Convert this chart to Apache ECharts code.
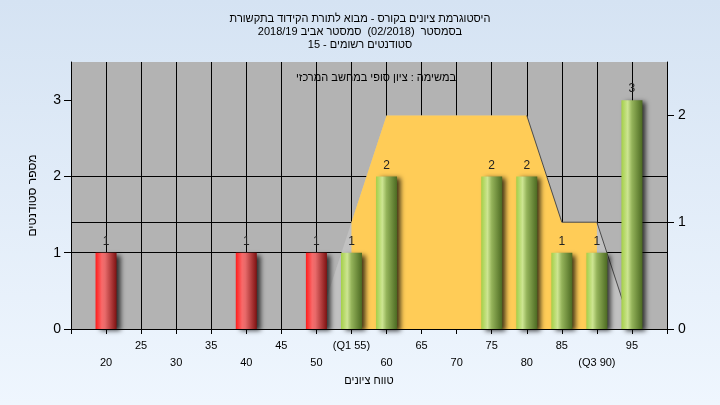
<!DOCTYPE html>
<html>
<head>
<meta charset="utf-8">
<script src="https://cdn.jsdelivr.net/npm/echarts@6/dist/echarts.min.js"></script>
<style>html,body{margin:0;padding:0;}#c{width:720px;height:405px;}</style>
</head>
<body>
<div id="c"></div>
<script>
// ---- data ----
const titleLines = [
  'היסטוגרמת ציונים בקורס - מבוא לתורת הקידוד בתקשורת',
  'בסמסטר  (02/2018)  סמסטר אביב 2018/19',
  'סטודנטים רשומים - 15'
];
const subTitle = 'במשימה : ציון סופי במחשב המרכזי';
const xAxisName = 'טווח ציונים';
const yAxisName = 'מספר סטודנטים';

const scores = [20, 40, 50, 55, 60, 75, 80, 85, 90, 95];
const counts = [1, 1, 1, 1, 2, 2, 2, 1, 1, 3];
const passMark = 55;

const densX = [50, 55, 60, 65, 70, 75, 80, 85, 90, 95];
const densY = [0, 1, 2, 2, 2, 2, 2, 1, 1, 0];
const q1 = 55, q3 = 90;

const xMin = 15, xMax = 100, xStep = 5;
const specialTickLabels = {55: '(Q1 55)', 90: '(Q3 90)'};
const leftTicks = [0, 1, 2, 3];
const rightTicks = [0, 1, 2];

// ---- chart ----
const FONT = '"Liberation Sans", Arial, sans-serif';
const redGrad = new echarts.graphic.LinearGradient(0, 0, 1, 0, [
  {offset: 0, color: '#ff1c1c'}, {offset: 0.3, color: '#f86a6a'},
  {offset: 0.45, color: '#e86a6a'}, {offset: 1, color: '#7e1212'}]);
const greenGrad = new echarts.graphic.LinearGradient(0, 0, 1, 0, [
  {offset: 0, color: '#a4cf48'}, {offset: 0.3, color: '#cde592'},
  {offset: 0.5, color: '#94b35a'}, {offset: 1, color: '#4c6a22'}]);

const barData = scores.map((s, i) => ({
  value: [s, counts[i]],
  itemStyle: {color: s < passMark ? redGrad : greenGrad}
}));
const densAll = densX.map((x, i) => [x, densY[i]]);
const densIQR = densAll.filter(p => p[0] >= q1 && p[0] <= q3);
const densEdge = densAll.map((p, i) => {
  const prevDown = i > 0 && densY[i - 1] > densY[i];
  const nextDown = i < densY.length - 1 && densY[i] > densY[i + 1];
  return (prevDown || nextDown) ? p : [p[0], null];
});

const chart = echarts.init(document.getElementById('c'), null, {renderer: 'canvas'});
chart.setOption({
  animation: false,
  backgroundColor: new echarts.graphic.LinearGradient(0, 0, 0, 1, [
    {offset: 0, color: '#d5e3f3'}, {offset: 1, color: '#eff6fe'}]),
  title: [{
    text: titleLines.join('\n'),
    left: 'center', top: 7,
    textStyle: {fontFamily: FONT, fontSize: 11, lineHeight: 13, fontWeight: 'normal', color: '#000'}
  }, {
    text: subTitle,
    left: 291, top: 67,
    textStyle: {fontFamily: FONT, fontSize: 11, fontWeight: 'normal', color: '#000'}
  }],
  grid: {left: 71, right: 53, top: 62, bottom: 76, show: true, backgroundColor: '#b3b3b3', borderWidth: 0},
  xAxis: {
    type: 'value', min: xMin, max: xMax, interval: xStep,
    name: xAxisName, nameLocation: 'middle', nameGap: 46,
    nameTextStyle: {fontFamily: FONT, fontSize: 11, color: '#000'},
    axisLine: {lineStyle: {color: '#000', width: 1}},
    axisTick: {show: true, length: 5, lineStyle: {color: '#000'}},
    splitLine: {show: true, lineStyle: {color: '#000', width: 1}},
    axisLabel: {
      fontFamily: FONT, fontSize: 11, color: '#000', lineHeight: 17, margin: 8,
      formatter: v => {
        if (v <= xMin || v >= xMax) return '';
        const t = specialTickLabels[v] || String(v);
        return (v % 10 === 0) ? '\n' + t : t;
      }
    }
  },
  yAxis: [{
    type: 'value', min: 0, max: 3.5, interval: 1, position: 'left',
    name: yAxisName, nameLocation: 'middle', nameGap: 32, nameRotate: 90,
    nameTextStyle: {fontFamily: FONT, fontSize: 12, color: '#000'},
    axisLine: {show: true, lineStyle: {color: '#000'}},
    axisTick: {show: true, length: 7, lineStyle: {color: '#000'}, customValues: leftTicks},
    axisLabel: {fontFamily: FONT, fontSize: 14, color: '#000', margin: 10, customValues: leftTicks},
    splitLine: {show: true, showMaxLine: false, lineStyle: {color: '#000', width: 1}}
  }, {
    type: 'value', min: 0, max: 2.5, interval: 1, position: 'right',
    axisLine: {show: true, lineStyle: {color: '#000'}},
    axisTick: {show: true, length: 7, lineStyle: {color: '#000'}, customValues: rightTicks},
    axisLabel: {fontFamily: FONT, fontSize: 14, color: '#000', margin: 11, customValues: rightTicks},
    splitLine: {show: true, showMaxLine: false, lineStyle: {color: '#000', width: 1}}
  }],
  series: [{
    type: 'line', yAxisIndex: 1, data: densAll, symbol: 'none', silent: true,
    lineStyle: {width: 0}, areaStyle: {color: '#c1c1c1', opacity: 1}, z: 1
  }, {
    type: 'line', yAxisIndex: 1, data: densIQR, symbol: 'none', silent: true,
    lineStyle: {width: 0}, areaStyle: {color: '#ffcc57', opacity: 1}, z: 2
  }, {
    type: 'line', yAxisIndex: 1, data: densEdge, symbol: 'none', silent: true, connectNulls: false,
    lineStyle: {width: 1, color: '#4a4a4a'}, z: 3
  }, {
    type: 'bar', yAxisIndex: 0, data: barData, barWidth: 21, z: 4,
    itemStyle: {shadowColor: 'rgba(0,0,0,0.75)', shadowBlur: 5, shadowOffsetX: 4, shadowOffsetY: 2},
    label: {show: true, position: 'top', distance: 5, fontFamily: FONT, fontSize: 12, color: '#222'}
  }]
});
</script>
</body>
</html>
